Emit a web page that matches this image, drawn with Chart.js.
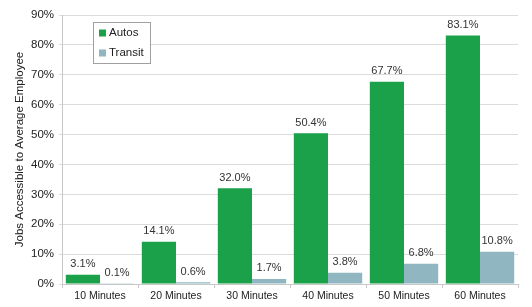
<!DOCTYPE html>
<html lang="en">
<head>
    <meta charset="UTF-8">
    <title>Jobs Accessible to Average Employee</title>
    <style>
        body {
            margin: 0;
            padding: 0;
            background-color: #fff;
        }

        .chart-box {
            width: 532px;
            height: 307px;
        }
    </style>
</head>
<body>

    <div class="chart-box">
        <canvas id="jobsChart"></canvas>
    </div>

    <script src="https://cdn.jsdelivr.net/npm/chart.js"></script>

    <script>
        const categories = ['10 Minutes', '20 Minutes', '30 Minutes', '40 Minutes', '50 Minutes', '60 Minutes'];
        const autosValues = [3.1, 14.1, 32.0, 50.4, 67.7, 83.1];
        const transitValues = [0.1, 0.6, 1.7, 3.8, 6.8, 10.8];
        const yTicks = [0, 10, 20, 30, 40, 50, 60, 70, 80, 90];

        const fontFamily = "'Liberation Sans Narrow', 'Liberation Sans', Arial, sans-serif";

        // Value labels above each bar
        const valueLabels = {
            id: 'valueLabels',
            afterDatasetsDraw(chart) {
                const ctx = chart.ctx;
                ctx.save();
                ctx.font = '11px ' + fontFamily;
                ctx.fillStyle = '#333';
                ctx.textAlign = 'center';
                ctx.textBaseline = 'bottom';
                chart.data.datasets.forEach((ds, i) => {
                    chart.getDatasetMeta(i).data.forEach((bar, j) => {
                        ctx.fillText(ds.data[j].toFixed(1) + '%', bar.x, bar.y - 5);
                    });
                });
                ctx.restore();
            }
        };

        // Boxed legend sitting inside the plot
        const boxLegend = {
            id: 'boxLegend',
            afterDraw(chart) {
                const ctx = chart.ctx;
                const x = 93, y = 22, w = 57, h = 41;
                ctx.save();
                ctx.fillStyle = '#fff';
                ctx.fillRect(x, y, w, h);
                ctx.strokeStyle = '#a0a0a0';
                ctx.lineWidth = 1;
                ctx.strokeRect(x + 0.5, y + 0.5, w, h);
                ctx.font = '11.5px ' + fontFamily;
                ctx.textBaseline = 'middle';
                chart.data.datasets.forEach((ds, i) => {
                    const cy = y + 11 + i * 20;
                    ctx.fillStyle = ds.backgroundColor;
                    ctx.fillRect(x + 6, cy - 3.5, 7, 7);
                    ctx.fillStyle = '#222';
                    ctx.fillText(ds.label, x + 16, cy);
                });
                ctx.restore();
            }
        };

        const ctx = document.getElementById('jobsChart').getContext('2d');
        new Chart(ctx, {
            type: 'bar',
            data: {
                labels: categories,
                datasets: [{
                    label: 'Autos',
                    data: autosValues,
                    backgroundColor: '#1aa14a'
                }, {
                    label: 'Transit',
                    data: transitValues,
                    backgroundColor: '#8fb6c1'
                }]
            },
            options: {
                responsive: true,
                maintainAspectRatio: false,
                animation: false,
                layout: {
                    padding: { top: 15, right: 14, bottom: 0, left: 0 }
                },
                datasets: {
                    bar: {
                        categoryPercentage: 0.9,
                        barPercentage: 1.0
                    }
                },
                plugins: {
                    legend: { display: false },
                    tooltip: { enabled: false }
                },
                scales: {
                    x: {
                        afterFit(scale) { scale.height = 23; },
                        grid: {
                            drawOnChartArea: false,
                            drawTicks: true,
                            tickLength: 4,
                            color: '#c8c8c8'
                        },
                        border: { color: '#c8c8c8' },
                        ticks: {
                            color: '#222',
                            padding: 2,
                            font: { family: fontFamily, size: 10.5 }
                        }
                    },
                    y: {
                        min: 0,
                        max: 90,
                        afterFit(scale) { scale.width = 62; },
                        afterBuildTicks(scale) {
                            scale.ticks = yTicks.map(v => ({ value: v }));
                        },
                        grid: {
                            color: '#dcdcdc',
                            tickLength: 3
                        },
                        border: { color: '#c8c8c8' },
                        ticks: {
                            color: '#222',
                            padding: 5,
                            font: { family: fontFamily, size: 11.5 },
                            callback: v => v + '%'
                        },
                        title: {
                            display: true,
                            text: 'Jobs Accessible to Average Employee',
                            color: '#222',
                            padding: { top: 13, bottom: 0 },
                            font: { family: fontFamily, size: 11.5 }
                        }
                    }
                }
            },
            plugins: [valueLabels, boxLegend]
        });
    </script>
</body>
</html>
